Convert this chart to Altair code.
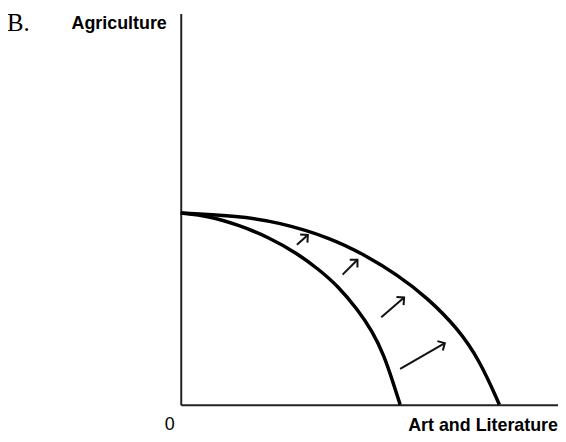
import math
import altair as alt
import pandas as pd

# Production possibilities frontier: points
inner_x = [0, 28, 58, 88, 118, 138, 158, 178, 193, 205, 213, 221]
inner_y = [193, 190, 181, 169, 152, 137, 120, 96, 74, 49, 25, 0]
outer_x = [0, 58, 98, 151, 185, 218, 248, 278, 301, 321]
outer_y = [193, 190, 184, 168, 151, 131, 108, 78, 45, 0]

# Shift arrows (tail -> head)
arrow_x1 = [117, 163, 202, 221]
arrow_y1 = [161, 131, 88, 36]
arrow_x2 = [128, 178, 225, 266]
arrow_y2 = [171, 146, 108, 62]

panel_label = "B."
y_label = "Agriculture"
x_label = "Art and Literature"
origin_label = "0"

X_MAX, Y_MAX = 380, 394

curves = pd.concat([
    pd.DataFrame({"x": inner_x, "y": inner_y, "curve": "inner", "order": range(len(inner_x))}),
    pd.DataFrame({"x": outer_x, "y": outer_y, "curve": "outer", "order": range(len(outer_x))}),
])

arrows = pd.DataFrame({"x1": arrow_x1, "y1": arrow_y1, "x2": arrow_x2, "y2": arrow_y2})
arrows["angle"] = [
    (math.degrees(math.atan2(b - a, d - c)) + 360) % 360
    for a, b, c, d in zip(arrows.x1, arrows.x2, arrows.y1, arrows.y2)
]

xs = alt.Scale(domain=[0, X_MAX], nice=False, zero=False)
ys = alt.Scale(domain=[0, Y_MAX], nice=False, zero=False)
ax = alt.Axis(domain=True, domainColor="#222", domainWidth=2, ticks=False,
              labels=False, grid=False, title=None)

lines = alt.Chart(curves).mark_line(
    color="black", strokeWidth=3.5, interpolate="basis"
).encode(
    x=alt.X("x:Q", scale=xs, axis=ax),
    y=alt.Y("y:Q", scale=ys, axis=ax),
    detail="curve:N",
    order="order:Q",
)

shafts = alt.Chart(arrows).mark_rule(color="#111", strokeWidth=2).encode(
    x=alt.X("x1:Q", scale=xs), y=alt.Y("y1:Q", scale=ys),
    x2="x2:Q", y2="y2:Q",
)

heads = alt.Chart(arrows).mark_point(
    shape="M-1,1L0,0L1,1", filled=False, color="#111", strokeWidth=2,
    size=120, opacity=1,
).encode(
    x=alt.X("x2:Q", scale=xs), y=alt.Y("y2:Q", scale=ys),
    angle=alt.Angle("angle:Q", scale=None),
)

def label(text, x, y, size, font, bold, align="left"):
    return alt.Chart(pd.DataFrame({"t": [text]})).mark_text(
        font=font, fontSize=size, fontWeight="bold" if bold else "normal",
        align=align, baseline="alphabetic", color="black",
    ).encode(x=alt.value(x), y=alt.value(y), text="t:N")

texts = [
    label(panel_label, -175, 18, 25, "Liberation Serif", False),
    label(y_label, -110, 16, 18, "Liberation Sans", True),
    label(origin_label, -11, 420, 18, "Liberation Sans", False, "center"),
    label(x_label, 380, 421, 18, "Liberation Sans", True, "right"),
]

chart = alt.layer(lines, shafts, heads, *texts).properties(
    width=X_MAX, height=Y_MAX,
    padding={"left": 174, "top": 4, "right": 0, "bottom": 30},
    autosize=alt.AutoSizeParams(type="none"),
).configure_view(stroke=None)

chart.save("out.html", embed_options={"renderer": "svg", "actions": False})
